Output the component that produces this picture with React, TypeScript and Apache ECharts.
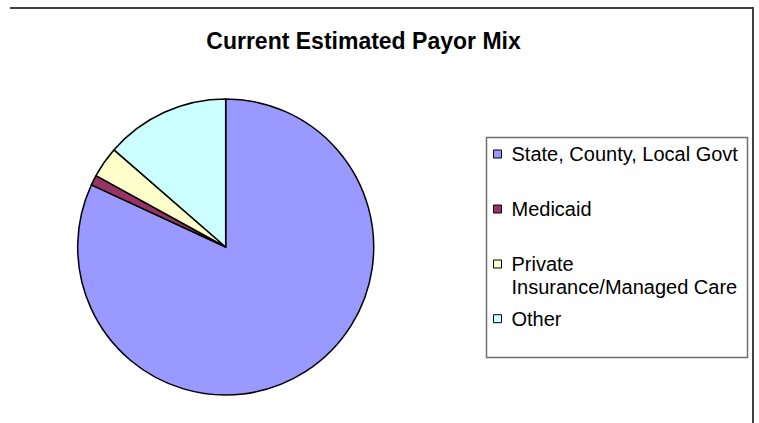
import React, { useEffect, useRef } from "react";
import * as echarts from "echarts";

const categories = [
  "State, County, Local Govt",
  "Medicaid",
  "Private\nInsurance/Managed Care",
  "Other",
];
const values = [81.9, 1.1, 3.4, 13.6];
const colors = ["#9999FF", "#993366", "#FFFFCC", "#CCFFFF"];
const legendCenters = [154, 209, 264, 318.7];
const titleText = "Current Estimated Payor Mix";

const FONT = "'Liberation Sans', Arial, sans-serif";

export default function App() {
  const ref = useRef<HTMLDivElement>(null);
  useEffect(() => {
    if (!ref.current) return;
    const chart = echarts.init(ref.current, undefined, { renderer: "svg" });
    const lh = 23;
    const legends = categories.map((name, i) => {
      const multi = name.includes("\n");
      const top = multi ? legendCenters[i] - (lh * 3) / 2 : legendCenters[i] - lh / 2;
      return {
        data: [name],
        orient: "vertical",
        left: 493,
        top,
        padding: 0,
        itemGap: 0,
        icon: "rect",
        itemWidth: 8,
        itemHeight: 8,
        selectedMode: false,
        formatter: multi ? (n: string) => "\u00a0\n" + n : undefined,
        itemStyle: { borderColor: "#000", borderWidth: 1 },
        textStyle: {
          fontFamily: FONT,
          fontSize: 20,
          color: "#000",
          lineHeight: lh,
          padding: [0, 0, 0, 5],
        },
      };
    });
    chart.setOption({
      animation: false,
      backgroundColor: "#fff",
      title: {
        text: titleText,
        left: 363.5,
        top: 29,
        padding: 0,
        textAlign: "center",
        textStyle: {
          fontFamily: FONT,
          fontSize: 23,
          fontWeight: "bold",
          color: "#000",
          lineHeight: 23,
        },
      },
      legend: legends,
      graphic: [
        {
          type: "polyline",
          shape: { points: [[10, 8], [753, 8], [753, 423]] },
          style: { stroke: "#404040", lineWidth: 2, fill: null },
          silent: true,
        },
        {
          type: "rect",
          shape: { x: 486.5, y: 137.5, width: 261, height: 220 },
          style: { stroke: "#707070", lineWidth: 1.5, fill: null },
          silent: true,
        },
      ],
      series: [
        {
          type: "pie",
          center: [225.7, 247],
          radius: 148,
          startAngle: 90,
          clockwise: true,
          label: { show: false },
          labelLine: { show: false },
          emphasis: { disabled: true },
          itemStyle: { borderColor: "#000", borderWidth: 1.5 },
          data: categories.map((name, i) => ({
            name,
            value: values[i],
            itemStyle: { color: colors[i] },
          })),
        },
      ],
    });
    return () => chart.dispose();
  }, []);
  return (
    <div
      ref={ref}
      style={{ position: "fixed", left: 0, top: 0, width: 759, height: 423 }}
    />
  );
}
